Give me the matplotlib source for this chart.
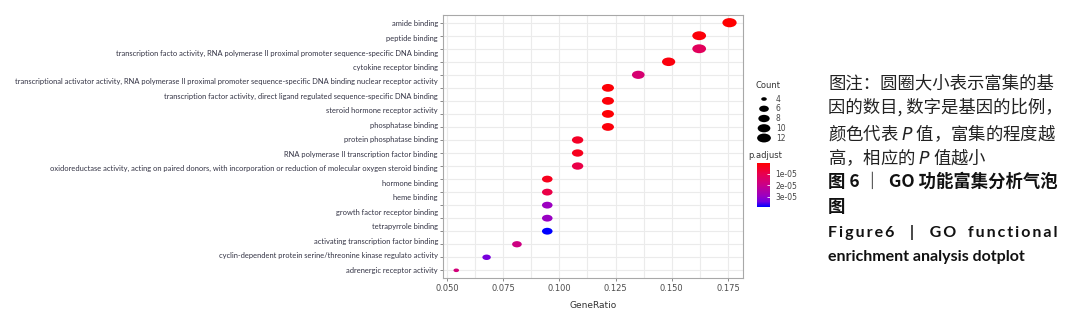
import numpy as np
import matplotlib
matplotlib.use("Agg")
import matplotlib.pyplot as plt
from matplotlib.colors import LinearSegmentedColormap, Normalize
from matplotlib.path import Path
from matplotlib.transforms import Affine2D

# GO terms as printed on the figure (18 labels)
terms = [
    "amide binding",
    "peptide binding",
    "transcription facto activity, RNA polymerase II proximal promoter sequence-specific DNA binding",
    "cytokine receptor binding",
    "transcriptional activator activity, RNA polymerase II proximal promoter sequence-specific DNA binding nuclear receptor activity",
    "transcription factor activity, direct ligand regulated sequence-specific DNA binding",
    "steroid hormone receptor activity",
    "phosphatase binding",
    "protein phosphatase binding",
    "RNA polymerase II transcription factor binding",
    "oxidoreductase activity, acting on paired donors, with incorporation or reduction of molecular oxygen steroid binding",
    "hormone binding",
    "heme binding",
    "growth factor receptor binding",
    "tetrapyrrole binding",
    "activating transcription factor binding",
    "cyclin-dependent protein serine/threonine kinase regulato activity",
    "adrenergic receptor activity",
]

# dots (20 rows in the panel, top to bottom)
gene_ratio = [0.1757, 0.1622, 0.1622, 0.1486, 0.1351, 0.1216, 0.1216, 0.1216, 0.1216, 0.1081,
              0.1081, 0.1081, 0.0946, 0.0946, 0.0946, 0.0946, 0.0946, 0.0811, 0.0676, 0.0541]
counts = [13, 12, 12, 11, 10, 9, 9, 9, 9, 8, 8, 8, 7, 7, 7, 7, 7, 6, 5, 4]
p_adjust = [4e-07, 1.5e-06, 1.2e-05, 2e-06, 1.55e-05, 1.2e-06, 1.5e-06, 1.0e-06, 1.8e-06, 5e-06,
            4e-06, 9e-06, 4e-06, 9e-06, 2.9e-05, 2.95e-05, 3.9e-05, 1.85e-05, 3.35e-05, 1.7e-05]

legend_counts = [4, 6, 8, 10, 12]
cbar_ticks = [1e-05, 2e-05, 3e-05]
x_ticks = [0.050, 0.075, 0.100, 0.125, 0.150, 0.175]

caption_cn = ["图注：圆圈大小表示富集的基",
              "因的数目, 数字是基因的比例，",
              "颜色代表 $P$ 值，富集的程度越",
              "高，相应的 $P$ 值越小"]
caption_bold = ["图 6 ｜  GO 功能富集分析气泡", "图"]
caption_en = ["F\u2009i\u2009g\u2009u\u2009r\u2009e\u20096    |    G\u2009O   f\u2009u\u2009n\u2009c\u2009t\u2009i\u2009o\u2009n\u2009a\u2009l",
              "enrichment analysis dotplot"]

W, H = 1066, 316
fig = plt.figure(figsize=(W / 100, H / 100), dpi=100)

# red -> blue, Lab-like interpolation as in ggplot
cmap = LinearSegmentedColormap.from_list(
    "padj", [(0, "#FF0000"), (0.25, "#E80050"), (0.5, "#C90089"),
             (0.75, "#9A00C2"), (0.875, "#7300E0"), (1, "#0000FF")])
norm = Normalize(vmin=min(p_adjust), vmax=max(p_adjust))

ellipse = Path.unit_circle().transformed(Affine2D().scale(1.55, 1.0))


def dot_size(c):
    h = 3.6 + 5.6 * np.sqrt((np.asarray(c, float) - 4) / 9)
    return (1.55 * h * 0.72) ** 2


ax = fig.add_axes([443 / W, 1 - 278 / H, 300 / W, 263 / H])
rows = np.arange(len(gene_ratio))
sc = ax.scatter(gene_ratio, rows, s=dot_size(counts), c=p_adjust, cmap=cmap, norm=norm,
                marker=ellipse, linewidths=0, zorder=3)

ax.set_xlim(0.0482, 0.1817)
ax.set_ylim(len(rows) - 0.41, -0.59)
ax.set_xticks(x_ticks)
ax.set_xticklabels([f"{v:.3f}" for v in x_ticks])
ax.set_xticks(np.arange(0.0625, 0.18, 0.025), minor=True)
ax.set_yticks(rows)
ax.set_yticklabels([])
ax.grid(True, which="both", axis="x", color="#EBEBEB", linewidth=0.8, zorder=0)
ax.grid(True, which="major", axis="y", color="#EBEBEB", linewidth=0.8, zorder=0)
ax.tick_params(axis="x", which="minor", length=0)
ax.tick_params(axis="both", which="major", length=2.5, width=0.6, color="#777777",
               labelsize=6, labelcolor="#4D4D4D", pad=1.5)
for s in ax.spines.values():
    s.set_color("#A8A8A8")
    s.set_linewidth(0.8)
ax.set_xlabel("GeneRatio", fontsize=6.5, color="#333333", labelpad=6)

# term labels (spaced evenly from the first to the last row)
lab_y = np.linspace(0.1, len(rows) - 1, len(terms))
for t, yy in zip(terms, lab_y):
    ax.text(-0.017, yy, t, transform=ax.get_yaxis_transform(), ha="right", va="center",
            fontsize=5.4, color="#333344", family="Lato")

# Count legend
lax = fig.add_axes([755 / W, 1 - 146 / H, 45 / W, 56 / H])
lax.set_xlim(0, 45)
lax.set_ylim(13.64, 2.15)
lax.axis("off")
lax.scatter([9] * len(legend_counts), legend_counts, s=dot_size(legend_counts),
            marker=ellipse, color="black", linewidths=0)
for c in legend_counts:
    lax.text(21, c, str(c), fontsize=5.5, color="#444444", va="center", ha="left")
fig.text(755 / W, 1 - 86 / H, "Count", fontsize=6, color="#333333", va="center")

# p.adjust colorbar
fig.text(748 / W, 1 - 156 / H, "p.adjust", fontsize=6, color="#333333", va="center")
cax = fig.add_axes([757 / W, 1 - 207 / H, 13 / W, 44 / H])
cb = fig.colorbar(sc, cax=cax, ticks=cbar_ticks)
cb.ax.invert_yaxis()
cb.outline.set_visible(False)
cb.ax.set_yticklabels(["1e-05", "2e-05", "3e-05"])
cb.ax.tick_params(direction="in", color="white", length=2.5, width=0.6,
                  labelsize=5.5, labelcolor="#444444", pad=4)

# caption on the right
fam = ["Noto Sans CJK SC", "DejaVu Sans"]
ys = [83, 107, 133, 157, 182, 207, 232, 257]
for txt, yy in zip(caption_cn, ys[:4]):
    fig.text(828 / W, 1 - yy / H, txt, fontsize=12.5, family=fam, va="center", color="#222222")
for txt, yy in zip(caption_bold, ys[4:6]):
    fig.text(828 / W, 1 - yy / H, txt, fontsize=12.5, family=fam, weight="bold",
             va="center", color="#111111")
for txt, yy in zip(caption_en, ys[6:]):
    fig.text(828 / W, 1 - yy / H, txt, fontsize=11.5, family=["Lato", "DejaVu Sans"],
             weight="bold", va="center", color="#111111")

fig.savefig("out.png", dpi=100)
